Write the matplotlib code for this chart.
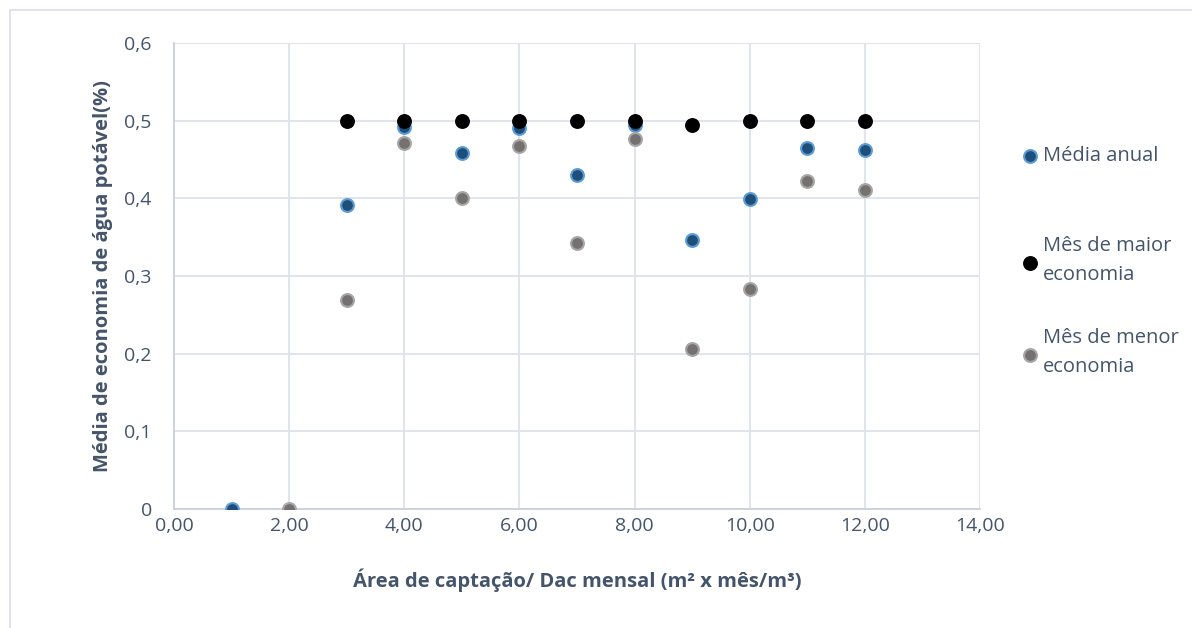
import matplotlib.pyplot as plt
from matplotlib.patches import Rectangle

plt.rcParams['font.family'] = ['Open Sans', 'DejaVu Sans']

# Área de captação / Dac mensal
x_anual = [1, 3, 4, 5, 6, 7, 8, 9, 10, 11, 12]
y_anual = [0.0, 0.391, 0.492, 0.458, 0.490, 0.430, 0.494, 0.346, 0.399, 0.465, 0.462]

x_maior = [3, 4, 5, 6, 7, 8, 9, 10, 11, 12]
y_maior = [0.5, 0.5, 0.5, 0.5, 0.5, 0.5, 0.495, 0.5, 0.5, 0.5]

x_menor = [2, 3, 4, 5, 6, 7, 8, 9, 10, 11, 12]
y_menor = [0.0, 0.269, 0.471, 0.400, 0.467, 0.342, 0.477, 0.206, 0.283, 0.422, 0.411]

labels = ['Média anual', 'Mês de maior\neconomia', 'Mês de menor\neconomia']

xticks = [0, 2, 4, 6, 8, 10, 12, 14]
yticks = [0, 0.1, 0.2, 0.3, 0.4, 0.5, 0.6]

text_color = '#44546a'
grid_color = '#dde2ea'

fig = plt.figure(figsize=(11.92, 6.28), dpi=100)
ax = fig.add_axes([174 / 1192, 1 - 509 / 628, (980 - 174) / 1192, (509 - 43) / 628])

# chart area border
fig.patches.append(Rectangle((10 / 1192, -0.05), 1.1, 1 - 10 / 628 + 0.05,
                             transform=fig.transFigure, fill=False,
                             edgecolor='#d9dde6', linewidth=1.2))

h1 = ax.scatter(x_anual, y_anual, s=85, color='#1f4e79', edgecolors='#5b9bd5',
                linewidths=1.5, zorder=3)
h2 = ax.scatter(x_maior, y_maior, s=85, color='black', edgecolors='black',
                linewidths=1.5, zorder=4)
h3 = ax.scatter(x_menor, y_menor, s=85, color='#767171', edgecolors='#a5a5a5',
                linewidths=1.5, zorder=5)

ax.set_xlim(0, 14)
ax.set_ylim(0, 0.6)
ax.set_xticks(xticks)
ax.set_xticklabels([f'{v:.2f}'.replace('.', ',') for v in xticks])
ax.set_yticks(yticks)
ax.set_yticklabels(['0'] + [f'{v:.1f}'.replace('.', ',') for v in yticks[1:]])

ax.grid(True, color=grid_color, linewidth=1.3, zorder=0)
ax.set_axisbelow(True)
for side in ['top', 'right']:
    ax.spines[side].set_visible(False)
for side in ['left', 'bottom']:
    ax.spines[side].set_color('#c9d1de')
    ax.spines[side].set_linewidth(1.3)
ax.tick_params(length=0, labelsize=14, labelcolor=text_color)
ax.tick_params(axis='x', pad=6)
ax.tick_params(axis='y', pad=16)

ax.set_xlabel('Área de captação/ Dac mensal (m² x mês/m³)', fontsize=14.5,
              fontweight='bold', color=text_color, labelpad=24)
ax.set_ylabel('Média de economia de água potável(%)', fontsize=14.5,
              fontweight='bold', color=text_color, labelpad=8)

# one legend box per series so the vertical gaps can differ
legend_tops = [146, 236, 328]
for h, lab, top in zip([h1, h2, h3], labels, legend_tops):
    leg = fig.legend([h], [lab], loc='upper left',
                     bbox_to_anchor=(1020 / 1192, 1 - top / 628),
                     frameon=False, fontsize=14.5, labelcolor=text_color,
                     handlelength=1.0, handletextpad=0.15, markerscale=1.0,
                     borderaxespad=0, borderpad=0)
    for t in leg.get_texts():
        t.set_linespacing(1.6)

fig.savefig('out.png', dpi=100)
